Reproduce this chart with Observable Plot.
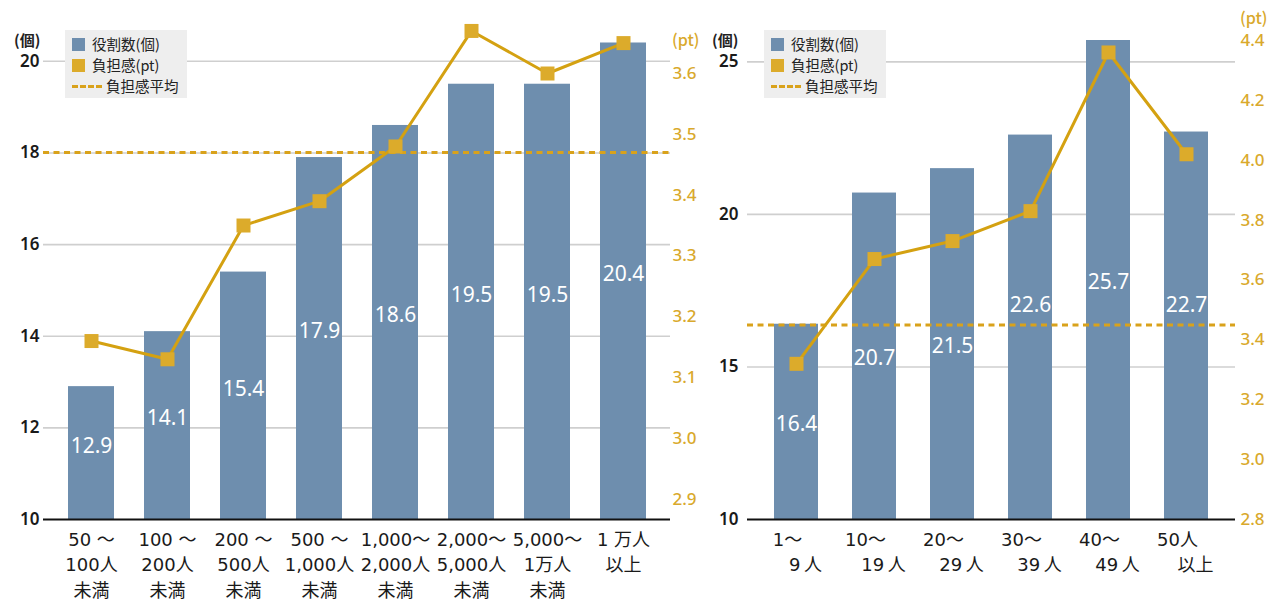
<!DOCTYPE html>
<html lang="ja">
<head>
<meta charset="utf-8">
<script src="https://cdn.jsdelivr.net/npm/d3@7"></script>
<script src="https://cdn.jsdelivr.net/npm/@observablehq/plot@0.6"></script>
<style>
  html, body { margin: 0; padding: 0; background: #fff; }
  body { width: 1271px; height: 602px; position: relative; overflow: hidden;
         font-family: "Noto Sans CJK JP", "Noto Sans", sans-serif; color: #222; }
  .panel { position: absolute; top: 0; }
  .unit { position: absolute; font-size: 15px; font-weight: 600; line-height: 1; white-space: nowrap; }
  .unit.pt { color: #d9a92c; font-weight: 500; font-size: 16px; }
  .legend { position: absolute; background: #eeeeee; width: 122px; height: 68px;
            font-size: 14.5px; line-height: 1; color: #222; }
  .legend .row { position: absolute; left: 7px; display: flex; align-items: center; white-space: nowrap; }
  .legend .sw { width: 13px; height: 13px; margin-right: 7px; }
  .legend .dash { width: 30px; height: 0; border-top: 3px dashed #d9a21b; margin-right: 4px; }
</style>
</head>
<body>
<script>
// 企業規模別(従業員数)
const companyCats = ["50 ～\n100人\n未満", "100 ～\n200人\n未満", "200 ～\n500人\n未満", "500 ～\n1,000人\n未満",
                     "1,000～\n2,000人\n未満", "2,000～\n5,000人\n未満", "5,000～\n1万人\n未満", "1 万人\n以上"];
const companyRoles = [12.9, 14.1, 15.4, 17.9, 18.6, 19.5, 19.5, 20.4];
const companyBurden = [3.16, 3.13, 3.35, 3.39, 3.48, 3.67, 3.60, 3.65];
const companyBurdenAvg = 3.47;
const companyRoleTicks = [10, 12, 14, 16, 18, 20];
const companyPtTicks = [2.9, 3.0, 3.1, 3.2, 3.3, 3.4, 3.5, 3.6];

// 職場規模別(人数)
const teamCats = ["1～\n9\u2009人", "10～\n19\u2009人", "20～\n29\u2009人", "30～\n39\u2009人", "40～\n49\u2009人", "50人\n以上"];
const teamRoles = [16.4, 20.7, 21.5, 22.6, 25.7, 22.7];
const teamBurden = [3.32, 3.67, 3.73, 3.83, 4.36, 4.02];
const teamBurdenAvg = 3.45;
const teamRoleTicks = [10, 15, 20, 25];
const teamPtTicks = [2.8, 3.0, 3.2, 3.4, 3.6, 3.8, 4.0, 4.2, 4.4];

const FONT = '"Noto Sans CJK JP", "Noto Sans", sans-serif';
const NUM_FONT = '"Noto Sans", "Noto Sans CJK JP", sans-serif';
const CAT_FONT = '"DejaVu Sans", "Noto Sans CJK JP", sans-serif';
const BAR = "#6e8eae";
const GOLD_LINE = "#d4a111";
const GOLD_MARK = "#dcab2b";
const GOLD_TEXT = "#d9a92c";
const BASE_Y = 519; // pixel row of the baseline (height − marginBottom)

function dualChart(o) {
  const toY = d3.scaleLinear().domain(o.ptDomain).range(o.yDomain);
  const pxPerUnit = (BASE_Y - o.marginTop) / (o.yDomain[1] - o.yDomain[0]);
  const avgV = toY(o.avg);
  // value labels sit mid-bar, but are lifted above the average line when they would cross it
  const labelY = d => {
    const mid = (o.yDomain[0] + d.roles) / 2 + o.labelLift / pxPerUnit;
    return Math.abs(mid - avgV) * pxPerUnit < 12 ? avgV + 20 / pxPerUnit : mid;
  };
  const data = o.cats.map((c, i) => ({cat: c, roles: o.roles[i], burden: o.burden[i]}));
  return Plot.plot({
    width: o.width,
    height: 602,
    marginLeft: o.marginLeft,
    marginRight: o.marginRight,
    marginTop: o.marginTop,
    marginBottom: 602 - BASE_Y,
    style: {fontFamily: FONT, background: "transparent", overflow: "visible"},
    x: {type: "band", domain: o.cats, paddingInner: o.paddingInner, paddingOuter: o.paddingOuter, axis: null},
    y: {domain: o.yDomain, axis: null},
    marks: [
      Plot.ruleY(o.roleTicks.filter(t => t > o.yDomain[0]), {stroke: "#cfcfcf", strokeWidth: 1.6}),
      Plot.barY(data, {x: "cat", y1: o.yDomain[0], y2: "roles", fill: BAR}),
      Plot.text(data, {
        x: "cat", y: labelY,
        text: d => d.roles.toFixed(1), fill: "white", fontSize: 21, fontFamily: NUM_FONT
      }),
      Plot.ruleY([avgV], {stroke: "#d9a21b", strokeWidth: 3, strokeDasharray: "6,4.5"}),
      Plot.line(data, {x: "cat", y: d => toY(d.burden), stroke: GOLD_LINE, strokeWidth: 3}),
      Plot.dot(data, {x: "cat", y: d => toY(d.burden), symbol: "square", r: 7.9, fill: GOLD_MARK, stroke: "none"}),
      Plot.ruleY([o.yDomain[0]], {stroke: "#111", strokeWidth: 2}),
      Plot.axisY({
        anchor: "left", label: null, ticks: o.roleTicks, tickSize: 0, tickPadding: o.leftPad,
        tickFormat: d => String(d), fontSize: 17, fontWeight: 600, fontFamily: NUM_FONT, fill: "#1a1a1a"
      }),
      Plot.axisY({
        anchor: "right", label: null, ticks: o.ptTicks.map(toY), tickSize: 0, tickPadding: o.rightPad,
        tickFormat: d => toY.invert(d).toFixed(1), fontSize: 17, fontWeight: 500, fontFamily: NUM_FONT, fill: GOLD_TEXT
      }),
      Plot.text(o.cats, {
        x: d => d, y: o.yDomain[0], text: o.labelFormat,
        lineAnchor: "top", dy: 8, lineHeight: 1.42, fontSize: 18, fill: "#1a1a1a", fontFamily: CAT_FONT
      })
    ]
  });
}

const left = dualChart({
  cats: companyCats, roles: companyRoles, burden: companyBurden, avg: companyBurdenAvg,
  yDomain: [10, 21], ptDomain: [2.8665, 3.6954],
  roleTicks: companyRoleTicks, ptTicks: companyPtTicks,
  width: 700, marginLeft: 43, marginRight: 30, marginTop: 15,
  paddingInner: 0.4, paddingOuter: 0.32, leftPad: 4, rightPad: 2, labelLift: 7,
  labelFormat: d => d
});

const right = dualChart({
  cats: teamCats, roles: teamRoles, burden: teamBurden, avg: teamBurdenAvg,
  yDomain: [10, 25.7], ptDomain: [2.8, 4.4],
  roleTicks: teamRoleTicks, ptTicks: teamPtTicks,
  width: 571, marginLeft: 47, marginRight: 36, marginTop: 40,
  paddingInner: 0.43, paddingOuter: 0.305, leftPad: 9, rightPad: 5, labelLift: -2,
  // staggered two-line labels: first line shifted left, second line right
  labelFormat: d => { const [a, b] = d.split("\n"); return a + "\u3000\n\u3000" + b; }
});

function panel(node, x) {
  const wrap = document.createElement("div");
  wrap.className = "panel";
  wrap.style.left = x + "px";
  wrap.appendChild(node);
  document.body.appendChild(wrap);
}
panel(left, 0);
panel(right, 700);

function addText(cls, text, x, y) {
  const el = document.createElement("div");
  el.className = cls;
  el.textContent = text;
  el.style.left = x + "px";
  el.style.top = y + "px";
  document.body.appendChild(el);
}
addText("unit", "(個)", 14, 32);
addText("unit pt", "(pt)", 672, 31);
addText("unit", "(個)", 712, 32);
addText("unit pt", "(pt)", 1240, 9);

function legend(x, y) {
  const box = document.createElement("div");
  box.className = "legend";
  box.style.left = x + "px";
  box.style.top = y + "px";
  box.innerHTML =
    `<div class="row" style="top:7px"><span class="sw" style="background:${BAR}"></span>役割数(個)</div>` +
    `<div class="row" style="top:28px"><span class="sw" style="background:${GOLD_MARK}"></span>負担感(pt)</div>` +
    `<div class="row" style="top:49px"><span class="dash"></span>負担感平均</div>`;
  document.body.appendChild(box);
}
legend(65, 30);
legend(764, 30);
</script>
</body>
</html>
